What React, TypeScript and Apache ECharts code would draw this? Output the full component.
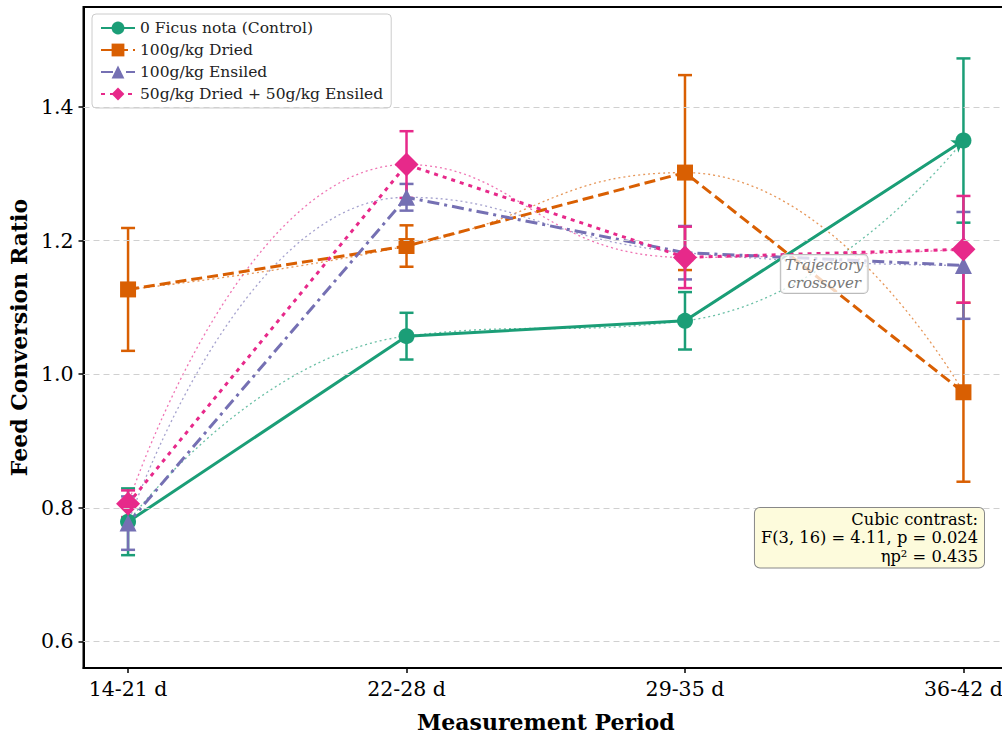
import React, { useEffect, useRef } from "react";
import * as echarts from "echarts";

const periods = ["14-21 d", "22-28 d", "29-35 d", "36-42 d"];
const periodPos = [0, 1, 2, 3];
const yTicks = [0.6, 0.8, 1.0, 1.2, 1.4];

const seriesNames = [
  "0 Ficus nota (Control)",
  "100g/kg Dried",
  "100g/kg Ensiled",
  "50g/kg Dried + 50g/kg Ensiled",
];
const control = [0.779, 1.057, 1.08, 1.35];
const controlErr = [0.05, 0.035, 0.043, 0.123];
const dried = [1.127, 1.192, 1.302, 0.973];
const driedErr = [0.092, 0.031, 0.146, 0.134];
const ensiled = [0.777, 1.265, 1.182, 1.163];
const ensiledErr = [0.04, 0.02, 0.04, 0.08];
const mixed = [0.806, 1.314, 1.175, 1.187];
const mixedErr = [0.02, 0.05, 0.046, 0.08];

const colors = ["#1b9e77", "#d95f02", "#7570b3", "#e7298a"];
const symbols = ["circle", "rect", "triangle", "diamond"];
const symbolSizes = [16, 16, 17, 24];
const lineTypes: any[] = ["solid", [11, 5], [12, 5, 3, 5], [4, 5]];

const statsText = "Cubic contrast:\nF(3, 16) = 4.11, p = 0.024\nηp² = 0.435";
const noteText = "Trajectory\ncrossover";
const noteAt = [2.5, 1.15];

const FONT = "DejaVu Serif";

export default function App() {
  const ref = useRef<HTMLDivElement>(null);
  useEffect(() => {
    if (!ref.current) return;
    const chart = echarts.init(ref.current, null, { renderer: "svg" });
    const means = [control, dried, ensiled, mixed];
    const errs = [controlErr, driedErr, ensiledErr, mixedErr];

    const series: any[] = [];
    means.forEach((m, i) => {
      series.push({
        type: "line",
        name: "trend" + i,
        data: periodPos.map((x, j) => [x, m[j]]),
        smooth: 0.5,
        showSymbol: false,
        silent: true,
        z: 1,
        lineStyle: { color: colors[i], width: 1.3, type: [2, 3], opacity: 0.65 },
        emphasis: { disabled: true },
        markLine:
          i === 0
            ? {
                silent: true,
                symbol: ["none", "none"],
                label: { show: false },
                lineStyle: { color: "#d0d0d0", type: [6, 4], width: 1, opacity: 1 },
                emphasis: { disabled: true },
                data: yTicks.map((v) => ({ yAxis: v })),
              }
            : undefined,
      });
    });
    means.forEach((m, i) => {
      series.push({
        type: "custom",
        name: "err" + i,
        data: periodPos.map((x, j) => [x, m[j], errs[i][j]]),
        encode: { x: 0, y: 1 },
        clip: false,
        z: 2,
        silent: true,
        renderItem: (params: any, api: any) => {
          const x = api.value(0);
          const y = api.value(1);
          const e = api.value(2);
          const top = api.coord([x, y + e]);
          const bot = api.coord([x, y - e]);
          const hw = 7;
          const st = { stroke: colors[i], lineWidth: 2.5 };
          return {
            type: "group",
            children: [
              { type: "line", shape: { x1: top[0], y1: top[1], x2: bot[0], y2: bot[1] }, style: st },
              { type: "line", shape: { x1: top[0] - hw, y1: top[1], x2: top[0] + hw, y2: top[1] }, style: st },
              { type: "line", shape: { x1: bot[0] - hw, y1: bot[1], x2: bot[0] + hw, y2: bot[1] }, style: st },
            ],
          };
        },
      });
      series.push({
        type: "line",
        name: seriesNames[i],
        data: periodPos.map((x, j) => [x, m[j]]),
        symbol: symbols[i],
        symbolSize: symbolSizes[i],
        showAllSymbol: true,
        z: 2,
        itemStyle: { color: colors[i] },
        lineStyle: { color: colors[i], width: 3, type: lineTypes[i] },
        emphasis: { disabled: true },
        markLine:
          i === 0
            ? {
                silent: true,
                symbol: ["none", "arrow"],
                symbolSize: 11,
                label: { show: false },
                lineStyle: { color: colors[0], width: 1.5, type: "solid" },
                emphasis: { disabled: true },
                data: [[{ coord: [2, control[2]] }, { coord: [3, control[3]] }]],
              }
            : undefined,
      });
    });

    chart.setOption({
      animation: false,
      backgroundColor: "#fff",
      textStyle: { fontFamily: FONT },
      grid: {
        left: 83,
        right: 2,
        top: 7,
        bottom: 70,
        show: true,
        borderColor: "#000",
        borderWidth: 2,
        backgroundColor: "transparent",
      },
      legend: {
        data: seriesNames,
        orient: "vertical",
        left: 92,
        top: 14,
        padding: [6, 8, 6, 8],
        itemGap: 6,
        itemWidth: 34,
        itemHeight: 16,
        backgroundColor: "#fff",
        borderColor: "#ccc",
        borderWidth: 1,
        borderRadius: 4,
        textStyle: { fontFamily: FONT, fontSize: 15.5, color: "#222" },
      },
      xAxis: {
        type: "value",
        min: -0.16,
        max: 3.16,
        name: "Measurement Period",
        nameLocation: "middle",
        nameGap: 43,
        nameTextStyle: { fontFamily: FONT, fontWeight: "bold", fontSize: 22, color: "#000" },
        axisLine: { show: true, onZero: false, lineStyle: { color: "#000", width: 2 } },
        axisTick: { show: true, customValues: periodPos, length: 5, lineStyle: { color: "#000", width: 1.5 } },
        axisLabel: {
          customValues: periodPos,
          formatter: (v: number) => periods[Math.round(v)] ?? "",
          fontFamily: FONT,
          fontSize: 20.5,
          color: "#000",
          margin: 10,
        },
        splitLine: { show: false },
      },
      yAxis: {
        type: "value",
        min: 0.56,
        max: 1.55,
        name: "Feed Conversion Ratio",
        nameLocation: "middle",
        nameRotate: 90,
        nameGap: 52,
        nameTextStyle: { fontFamily: FONT, fontWeight: "bold", fontSize: 22, color: "#000" },
        axisLine: { show: true, onZero: false, lineStyle: { color: "#000", width: 2 } },
        axisTick: { show: true, customValues: yTicks, length: 5, lineStyle: { color: "#000", width: 1.5 } },
        axisLabel: {
          customValues: yTicks,
          formatter: (v: number) => v.toFixed(1),
          fontFamily: FONT,
          fontSize: 20.5,
          color: "#000",
          margin: 10,
        },
        splitLine: { show: false },
      },
      series,
    });

    const p = chart.convertToPixel({ gridIndex: 0 } as any, noteAt) as number[];
    chart.setOption({
      graphic: [
        {
          type: "text",
          x: p[0],
          y: p[1],
          z: 100,
          silent: true,
          style: {
            text: noteText,
            align: "center",
            verticalAlign: "middle",
            font: `italic 15px "${FONT}"`,
            fill: "#777",
            lineHeight: 18,
            backgroundColor: "rgba(255,255,255,0.75)",
            borderColor: "#bbb",
            borderWidth: 1,
            borderRadius: 4,
            padding: [1, 4, 1, 4],
          },
        },
        {
          type: "text",
          x: 984,
          y: 508,
          z: 100,
          silent: true,
          style: {
            text: statsText,
            align: "right",
            verticalAlign: "top",
            font: `16.3px "${FONT}"`,
            fill: "#000",
            lineHeight: 18.5,
            backgroundColor: "#fdfbdc",
            borderColor: "#888",
            borderWidth: 1,
            borderRadius: 5,
            padding: [2, 6, 2, 6],
          },
        },
      ],
    });

    return () => chart.dispose();
  }, []);
  return (
    <div style={{ position: "fixed", left: 0, top: 0, width: 1002, height: 738, overflow: "hidden" }}>
      <div ref={ref} style={{ width: 1010, height: 738 }} />
    </div>
  );
}
